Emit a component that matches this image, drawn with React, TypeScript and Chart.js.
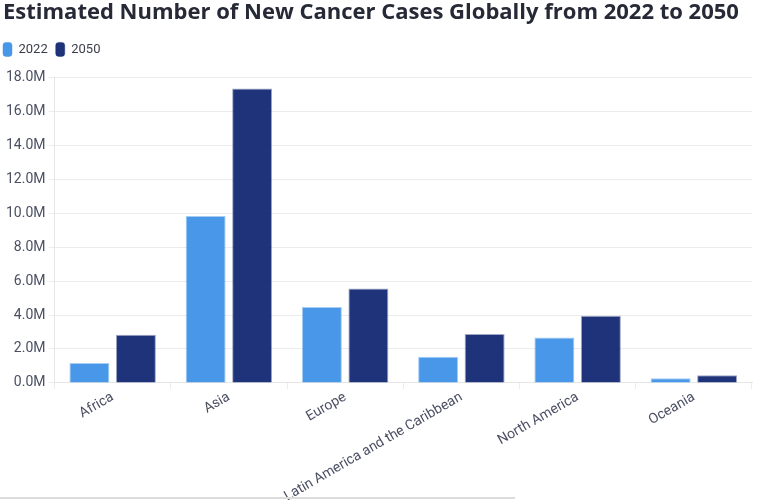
import React, { useEffect, useRef } from "react";
import { Chart, registerables } from "chart.js";

Chart.register(...registerables);

const categories = ["Africa", "Asia", "Europe", "Latin America and the Caribbean", "North America", "Oceania"];
const cases2022 = [1.18e6, 9.83e6, 4.47e6, 1.55e6, 2.67e6, 0.27e6];
const cases2050 = [2.84e6, 17.35e6, 5.56e6, 2.88e6, 3.96e6, 0.45e6];
const seriesLabels = ["2022", "2050"];

const legendSpacer = {
  id: "legendSpacer",
  beforeInit(chart: any) {
    const legend = chart.legend;
    if (!legend) return;
    const orig = legend.fit;
    legend.fit = function () {
      orig.call(this);
      this.height += 11;
    };
  },
  afterLayout(chart: any) {
    const legend = chart.legend;
    if (!legend) return;
    legend.left -= 8;
    legend.right -= 8;
  },
};

export default function App() {
  const ref = useRef<HTMLCanvasElement>(null);
  useEffect(() => {
    document.body.style.margin = "0";
    const ctx = ref.current!;
    const chart = new Chart(ctx, {
      type: "bar",
      data: {
        labels: categories,
        datasets: [
          {
            label: seriesLabels[0],
            data: cases2022,
            backgroundColor: "rgba(58,142,230,0.92)",
            borderColor: "rgba(58,142,230,0.45)",
            borderWidth: 1,
          },
          {
            label: seriesLabels[1],
            data: cases2050,
            backgroundColor: "rgba(12,34,112,0.92)",
            borderColor: "rgba(12,34,112,0.4)",
            borderWidth: 1,
          },
        ],
      },
      plugins: [legendSpacer],
      options: {
        animation: false,
        responsive: false,
        maintainAspectRatio: false,
        layout: { padding: { left: 3, right: 31, top: 0, bottom: -5 } },
        datasets: { bar: { categoryPercentage: 0.8, barPercentage: 0.86 } },
        plugins: {
          title: {
            display: true,
            text: "Estimated Number of New Cancer Cases Globally from 2022 to 2050",
            align: "start",
            color: "#262936",
            font: { family: "'Open Sans', sans-serif", size: 22, weight: "bold" },
            padding: { top: 0, bottom: 8 },
          },
          legend: {
            display: true,
            align: "start",
            labels: {
              boxWidth: 9,
              boxHeight: 14,
              useBorderRadius: true,
              borderRadius: 3,
              color: "#3b3e4a",
              font: { family: "Roboto, sans-serif", size: 13 },
              padding: 8,
            },
          },
          tooltip: { enabled: false },
        },
        scales: {
          x: {
            grid: { color: "#ececec", drawOnChartArea: false, tickLength: 6 },
            border: { color: "#e6e6e6" },
            ticks: {
              color: "#4b4f63",
              font: { family: "Roboto, sans-serif", size: 14 },
              minRotation: 30,
              maxRotation: 30,
              autoSkip: false,
              padding: 0,
            },
          },
          y: {
            min: 0,
            max: 18e6,
            grid: { color: "#ececec", tickLength: 6 },
            border: { color: "#e6e6e6" },
            ticks: {
              stepSize: 2e6,
              color: "#4b4f63",
              font: { family: "Roboto, sans-serif", size: 14 },
              callback: (v: any) => (Number(v) / 1e6).toFixed(1) + "M",
            },
          },
        },
      },
    });
    return () => chart.destroy();
  }, []);
  return (
    <div style={{ position: "relative", width: 783, height: 500 }}>
      <canvas ref={ref} width={783} height={500} style={{ display: "block" }} />
      <div style={{ position: "absolute", left: 0, top: 497, width: 515, height: 2, background: "#dcdcdc" }} />
    </div>
  );
}
